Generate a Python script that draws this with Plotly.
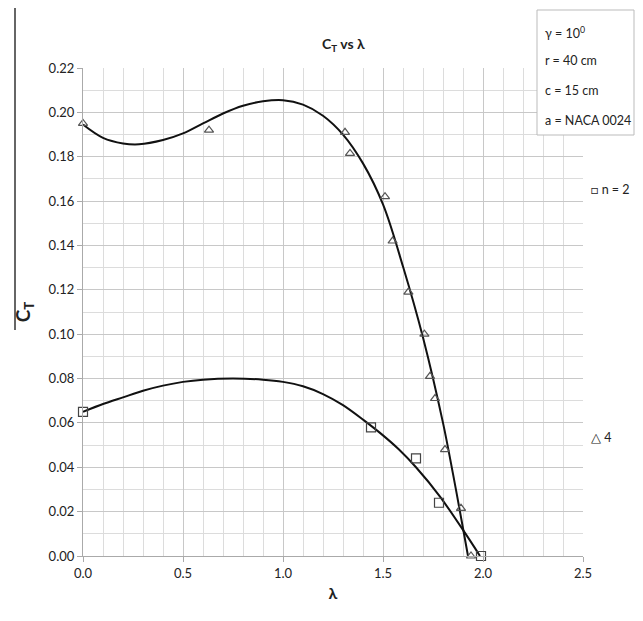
import plotly.graph_objects as go

# Measured points, n = 2 (squares)
lam_n2 = [0.0, 1.44, 1.665, 1.78, 1.99]
ct_n2 = [0.065, 0.058, 0.044, 0.024, 0.0]

# Measured points, n = 4 (triangles)
lam_n4 = [0.0, 0.63, 1.31, 1.335, 1.51, 1.548, 1.627, 1.707, 1.735, 1.76, 1.81, 1.89, 1.94]
ct_n4 = [0.195, 0.192, 0.191, 0.1815, 0.162, 0.142, 0.119, 0.100, 0.081, 0.071, 0.048, 0.0215, 0.0]

# Trend curves
lam_fit2 = [0.0, 0.1, 0.2, 0.3, 0.4, 0.5, 0.6, 0.75, 0.9, 1.0, 1.1, 1.2, 1.3, 1.4, 1.485, 1.58, 1.665, 1.785, 1.91, 1.985]
ct_fit2 = [0.065, 0.0685, 0.0715, 0.0745, 0.0768, 0.0785, 0.0795, 0.0800, 0.0795, 0.0785, 0.0765, 0.0730, 0.0680, 0.0615, 0.0555, 0.048, 0.040, 0.0268, 0.0104, 0.0]

lam_fit4 = [0.0, 0.1, 0.2, 0.28, 0.4, 0.5, 0.6, 0.7, 0.8, 0.9, 1.0, 1.1, 1.2, 1.3, 1.4, 1.5, 1.6, 1.7, 1.8, 1.85, 1.9, 1.925]
ct_fit4 = [0.1945, 0.1885, 0.1860, 0.1856, 0.1875, 0.1905, 0.1950, 0.1995, 0.2030, 0.2050, 0.2055, 0.2035, 0.1985, 0.1900, 0.1770, 0.1585, 0.1305, 0.0985, 0.0600, 0.0370, 0.0125, 0.0]

x_ticks = [0.0, 0.5, 1.0, 1.5, 2.0, 2.5]
y_ticks = [0.00, 0.02, 0.04, 0.06, 0.08, 0.10, 0.12, 0.14, 0.16, 0.18, 0.20, 0.22]

info_lines = ["γ = 10<sup>0</sup>", "r = 40 cm", "c = 15 cm", "a = NACA 0024"]

FONT = "Lato"
fig = go.Figure()

fig.add_trace(go.Scatter(x=lam_fit4, y=ct_fit4, mode="lines", line=dict(color="#111", width=2, shape="spline", smoothing=1.0),
                         hoverinfo="skip", showlegend=False))
fig.add_trace(go.Scatter(x=lam_fit2, y=ct_fit2, mode="lines", line=dict(color="#111", width=2, shape="spline", smoothing=0.8),
                         hoverinfo="skip", showlegend=False))
fig.add_trace(go.Scatter(x=lam_n4, y=ct_n4, mode="markers", name="4",
                         marker=dict(symbol="triangle-up-open", size=8, color="#555", line=dict(width=1.2)),
                         showlegend=False, cliponaxis=False))
fig.add_trace(go.Scatter(x=lam_n2, y=ct_n2, mode="markers", name="n = 2",
                         marker=dict(symbol="square-open", size=9, color="#444", line=dict(width=1.2)),
                         showlegend=False, cliponaxis=False))

# paper coordinates from reference pixel positions (plot area 83..583 x, 68..556 y)
def px(x):
    return (x - 83) / 500.0

def py(y):
    return (556 - y) / 488.0

# page body has an 8px margin, so the figure is 16px smaller and offset
fig.update_layout(
    width=627, height=605,
    margin=dict(l=75, r=52, t=60, b=57),
    paper_bgcolor="white", plot_bgcolor="white",
    font=dict(family=FONT, size=12, color="#222"),
    xaxis=dict(range=[0, 2.5], tickvals=x_ticks, ticktext=[f"{v:.1f}" for v in x_ticks],
               showgrid=True, gridcolor="#c8c8c8", gridwidth=1.3,
               minor=dict(dtick=0.1, showgrid=True, gridcolor="#dcdcdc", gridwidth=1),
               showline=True, linecolor="#aaa", linewidth=1.2, ticks="outside", ticklen=5, tickcolor="#aaa",
               zeroline=False, tickfont=dict(size=13, family=FONT),
               title=dict(text="<b>λ</b>", font=dict(size=16, family=FONT), standoff=8)),
    yaxis=dict(range=[0, 0.22], tickvals=y_ticks, ticktext=[f"{v:.2f}" for v in y_ticks],
               showgrid=True, gridcolor="#c8c8c8", gridwidth=1.3,
               minor=dict(dtick=0.01, showgrid=True, gridcolor="#dcdcdc", gridwidth=1),
               showline=True, linecolor="#aaa", linewidth=1.2, ticks="outside", ticklen=5, tickcolor="#aaa",
               zeroline=False, tickfont=dict(size=13, family=FONT),
               title=dict(text="<b>C<sub>T</sub></b>", font=dict(size=19, family=FONT), standoff=12)),
)

# Title
fig.add_annotation(x=px(343), y=py(45), xref="paper", yref="paper", showarrow=False,
                   xanchor="center", yanchor="middle",
                   text="<b>C<sub>T</sub> vs λ</b>", font=dict(size=14, family=FONT, color="#222"))

# Info box
fig.add_shape(type="rect", xref="paper", yref="paper", x0=px(537), x1=px(634), y0=py(135), y1=py(10),
              line=dict(color="#bbb", width=1), fillcolor="white")
for txt, yy in zip(info_lines, [32, 61, 91, 120]):
    fig.add_annotation(x=px(543), y=py(yy), xref="paper", yref="paper", xanchor="left", yanchor="middle",
                       showarrow=False, text=txt, font=dict(size=12.5, family=FONT, color="#222"))

# Legend labels
fig.add_annotation(x=px(589), y=py(189), xref="paper", yref="paper", xanchor="left", yanchor="middle",
                   showarrow=False, text="□ n = 2", font=dict(size=12.5, family=FONT, color="#222"))
fig.add_annotation(x=px(589), y=py(437), xref="paper", yref="paper", xanchor="left", yanchor="middle",
                   showarrow=False, text="△ 4", font=dict(size=12.5, family=FONT, color="#222"))

# Left frame line
fig.add_shape(type="line", xref="paper", yref="paper", x0=px(15), x1=px(15), y0=py(330), y1=py(8),
              line=dict(color="#333", width=1.5))

fig.write_html("out.html")
